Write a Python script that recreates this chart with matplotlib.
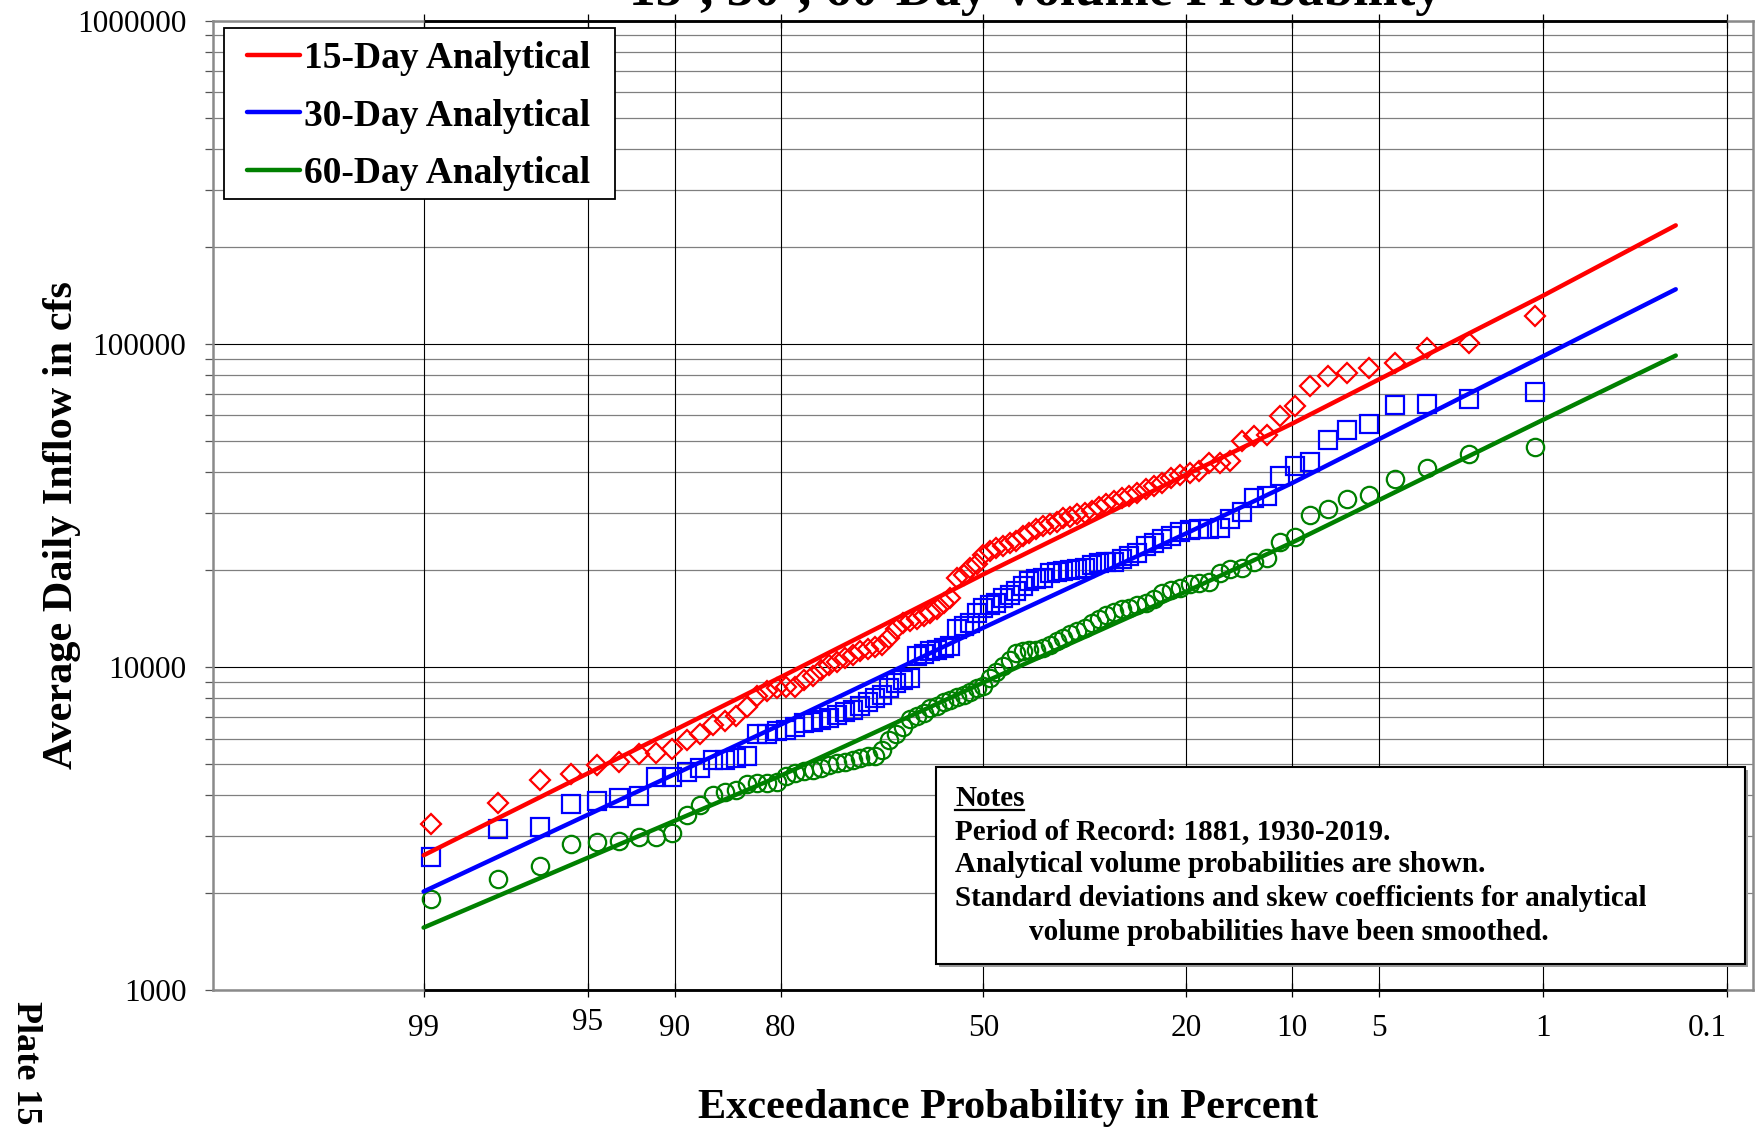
import numpy as np
import matplotlib
matplotlib.use("Agg")
import matplotlib.pyplot as plt
from matplotlib.lines import Line2D
from matplotlib.patches import Rectangle
from matplotlib.ticker import FixedLocator, NullLocator, NullFormatter, FixedFormatter, LogLocator
from matplotlib import transforms
from statistics import NormalDist

plt.rcParams['font.family'] = ['Liberation Serif', 'DejaVu Serif']

# Ranked annual maximum average daily inflows (cfs), largest first
flow_15day = [
    121700, 100600, 96830, 87200, 84140, 81190, 79630, 73840, 64300, 59860,
    52160, 51970, 50070, 43410, 42860, 42710, 40420, 39960, 39200, 38560,
    37210, 36320, 35650, 34650, 33820, 33440, 32630, 31870, 31200, 30380,
    30040, 29680, 29200, 28990, 28090, 27630, 27300, 26800, 26040, 25420,
    24530, 24130, 23670, 23400, 22840, 22140, 20770, 20290, 19200, 18890,
    16380, 15730, 15070, 14720, 14370, 14100, 13860, 13630, 13060, 12250,
    11730, 11530, 11400, 11200, 10850, 10690, 10390, 10170, 9815, 9403,
    9139, 8694, 8664, 8633, 8450, 8153, 7540, 7069, 6822, 6630,
    6204, 5927, 5586, 5416, 5390, 5066, 4959, 4673, 4455, 3790, 3263,
]
flow_30day = [
    71060, 67440, 65080, 64620, 56410, 54050, 50330, 42930, 41960, 38920,
    33820, 33440, 30170, 28640, 27000, 26800, 26670, 26540, 26160, 25420,
    24950, 24250, 23670, 22580, 22030, 21520, 21140, 21110, 20920, 20620,
    20290, 20140, 19940, 19800, 19660, 19470, 18790, 18660, 18430, 17790,
    17170, 16640, 16380, 15800, 15500, 15250, 14720, 13630, 13370, 13060,
    11590, 11460, 11320, 11190, 10930, 10800, 9252, 9108, 8909, 8633,
    8212, 7998, 7784, 7565, 7368, 7238, 7104, 6970, 6855, 6773,
    6701, 6536, 6397, 6320, 6217, 6194, 5313, 5226, 5164, 5145,
    4878, 4740, 4563, 4557, 3974, 3918, 3845, 3763, 3184, 3155, 2572,
]
flow_60day = [
    47770, 45540, 41210, 38290, 34060, 33200, 30910, 29470, 25180, 24300,
    21780, 21110, 20290, 20040, 19470, 18310, 18230, 18010, 17590, 17290,
    16890, 16260, 15800, 15500, 15250, 15070, 14780, 14430, 14080, 13630,
    13220, 12900, 12600, 12310, 12020, 11650, 11460, 11320, 11270, 11190,
    11060, 10540, 10050, 9630, 9252, 8714, 8614, 8348, 8212, 8079,
    7925, 7773, 7592, 7469, 7206, 7034, 6904, 6536, 6217, 5957,
    5546, 5313, 5287, 5238, 5145, 5090, 5054, 4982, 4860, 4808,
    4774, 4689, 4606, 4414, 4383, 4367, 4351, 4169, 4110, 4023,
    3745, 3487, 3060, 2974, 2970, 2882, 2861, 2821, 2424, 2203, 1910,
]

# Analytical volume-frequency curves (cfs) at selected exceedance probabilities (%)
curve_prob = [99, 80, 50, 20, 10, 1, 0.2]
curve_15day = [2612, 9300, 19340, 39300, 56500, 140900, 232600]
curve_30day = [2017, 6630, 13220, 25860, 37000, 91500, 147500]
curve_60day = [1560, 4607, 8945, 17090, 24220, 58170, 91980]

prob_ticks = [99, 95, 90, 80, 50, 20, 10, 5, 1, 0.1]
prob_labels = ['99', '95', '90', '80', '50', '20', '10', '5', '1', '0.1']
y_ticks = [1000, 10000, 100000, 1000000]
y_labels = ['1000', '10000', '100000', '1000000']

series_names = ['15-Day Analytical', '30-Day Analytical', '60-Day Analytical']
series_colors = ['#ff0000', '#0000ff', '#008000']

title_text = '15-, 30-, 60-Day Volume Probability'
notes_lines = [
    'Period of Record: 1881, 1930-2019.',
    'Analytical volume probabilities are shown.',
    'Standard deviations and skew coefficients for analytical',
]
notes_last = 'volume probabilities have been smoothed.'

# ---- normal-probability axis scale (increasing in percent; axis is inverted) ----
_nd = NormalDist()
_ppf = np.vectorize(lambda q: _nd.inv_cdf(min(max(q, 1e-12), 1 - 1e-12)), otypes=[float])
_cdf = np.vectorize(_nd.cdf, otypes=[float])


def prob_forward(p):
    p = np.asarray(p, dtype=float)
    return _ppf(p / 100.0)


def prob_inverse(z):
    z = np.asarray(z, dtype=float)
    return 100.0 * _cdf(z)


W, H = 1758, 1128
DPI = 100


def fx(px):
    return px / W


def fy(py):
    return 1 - py / H


def pt(px):
    return px * 72.0 / DPI


fig = plt.figure(figsize=(W / DPI, H / DPI), dpi=DPI)
ax_left, ax_right, ax_top, ax_bot = 213.4, 1753.2, 20.7, 990.0
ax = fig.add_axes([fx(ax_left), fy(ax_bot), (ax_right - ax_left) / W, (ax_bot - ax_top) / H])

ax.set_xscale('function', functions=(prob_forward, prob_inverse))
ax.set_yscale('log')
# high exceedance on the left, rare events on the right
ax.set_xlim(float(prob_inverse(3.2)), float(prob_inverse(-3.2)))
ax.set_ylim(y_ticks[0], y_ticks[-1])

# grid
ax.xaxis.set_major_locator(FixedLocator(prob_ticks))
ax.xaxis.set_minor_locator(NullLocator())
ax.xaxis.set_major_formatter(NullFormatter())
ax.yaxis.set_major_locator(FixedLocator(y_ticks))
ax.yaxis.set_major_formatter(FixedFormatter(y_labels))
ax.yaxis.set_minor_locator(LogLocator(base=10, subs=range(2, 10)))
ax.yaxis.set_minor_formatter(NullFormatter())

ax.grid(True, axis='x', which='major', color='black', lw=0.8, ls='-', zorder=0)
ax.grid(True, axis='y', which='major', color='black', lw=0.8, ls='-', zorder=0)
ax.grid(True, axis='y', which='minor', color='#000000', lw=0.9, ls=(0, (0.8, 0.8)), zorder=0)
ax.set_axisbelow(True)

ax.tick_params(axis='x', which='major', direction='inout', length=pt(14), width=0.9,
               top=True, bottom=True, color='black')
ax.tick_params(axis='y', which='both', direction='out', length=pt(8), width=0.9,
               left=True, right=False, color='#555555')
ax.tick_params(axis='y', which='major', labelsize=22.5, pad=pt(19))

for s in ax.spines.values():
    s.set_color('#8a8a8a')
    s.set_linewidth(1.8)

# heavy probability-paper rules along top and bottom
for yv in (y_ticks[0], y_ticks[-1]):
    ax.plot([prob_ticks[0], prob_ticks[-1]], [yv, yv], color='black', lw=2.0,
            clip_on=False, zorder=6, solid_capstyle='butt')

# observed volumes at Weibull plotting positions
n = len(flow_15day)
rank = np.arange(1, n + 1)
exceed = 100.0 * rank / (n + 1)
marker_styles = [('D', 10), ('s', 12.5), ('o', 12.5)]
for flows, color, (mk, ms) in zip([flow_15day, flow_30day, flow_60day], series_colors, marker_styles):
    ax.plot(exceed, flows, ls='none', marker=mk, ms=ms, mfc='none', mec=color, mew=1.6, zorder=3)

# analytical curves
for curve, color in zip([curve_15day, curve_30day, curve_60day], series_colors):
    ax.plot(curve_prob, curve, color=color, lw=3.2, solid_capstyle='round', zorder=4)

# x tick labels
xlab_tr = transforms.blended_transform_factory(ax.transData, ax.transAxes)
ax_h = ax_bot - ax_top
for p, lab in zip(prob_ticks, prob_labels):
    ycen = 1029.0 if lab != '95' else 1023.0
    yax = -(ycen - ax_bot) / ax_h
    ha = 'right' if lab == '0.1' else 'center'
    ax.text(p, yax, lab, transform=xlab_tr, ha=ha, va='center', fontsize=22.5, clip_on=False)

# axis titles
fig.text(fx(1008), fy(1118.3), 'Exceedance Probability in Percent', ha='center', va='baseline',
         fontsize=30.4, fontweight='bold')
fig.text(fx(61.7), fy(525.5), 'Average Daily Inflow in cfs', ha='center', va='center',
         rotation=90, fontsize=30.4, fontweight='bold')
fig.text(fx(25), fy(1063), 'Plate 15', ha='center', va='center', rotation=270,
         fontsize=26, fontweight='bold')
fig.text(fx(1035), fy(5), title_text, ha='center', va='baseline', fontsize=38.3, fontweight='bold')

# legend (entries inside a separately drawn frame)
handles = [Line2D([], [], color=c, lw=3.2, solid_capstyle='round') for c in series_colors]
leg = ax.legend(handles, series_names, loc='upper left',
                bbox_to_anchor=(fx(247), fy(41)), bbox_transform=fig.transFigure,
                borderaxespad=0, borderpad=0, frameon=False,
                prop={'size': 27, 'weight': 'bold', 'family': ['Liberation Serif', 'DejaVu Serif']},
                handlelength=1.41, handletextpad=0.12, labelspacing=0.60)
leg.set_zorder(10)
leg_frame = Rectangle((fx(224), fy(199)), fx(615) - fx(224), fy(28.3) - fy(199),
                      transform=fig.transFigure, facecolor='white', edgecolor='black',
                      lw=1.3, zorder=9, clip_on=False)
ax.add_artist(leg_frame)

# notes box with drop shadow
nx0, nx1, ny0, ny1 = 935.6, 1745.0, 767.0, 963.5
fig.patches.append(Rectangle((fx(nx0 + 3), fy(ny1 + 3)), (nx1 - nx0) / W, (ny1 - ny0) / H,
                             transform=fig.transFigure, facecolor='#9a9a9a', edgecolor='none',
                             zorder=8))
fig.patches.append(Rectangle((fx(nx0), fy(ny1)), (nx1 - nx0) / W, (ny1 - ny0) / H,
                             transform=fig.transFigure, facecolor='white', edgecolor='black',
                             lw=1.5, zorder=9))
note_fs = 21
t_notes = fig.text(fx(955), fy(806), 'Notes', ha='left', va='baseline', fontsize=note_fs,
                   fontweight='bold', zorder=11)
for k, line in enumerate(notes_lines):
    fig.text(fx(955), fy(839 + 33.4 * k), line, ha='left', va='baseline', fontsize=note_fs,
             fontweight='bold', zorder=11)
fig.text(fx(1029), fy(939.5), notes_last, ha='left', va='baseline', fontsize=note_fs,
         fontweight='bold', zorder=11)

fig.canvas.draw()
bb = t_notes.get_window_extent()
uy = fy(809.5)
fig.add_artist(Line2D([bb.x0 / W, bb.x1 / W], [uy, uy], transform=fig.transFigure,
                      color='black', lw=1.6, zorder=11))

fig.savefig('out.png', dpi=DPI)
